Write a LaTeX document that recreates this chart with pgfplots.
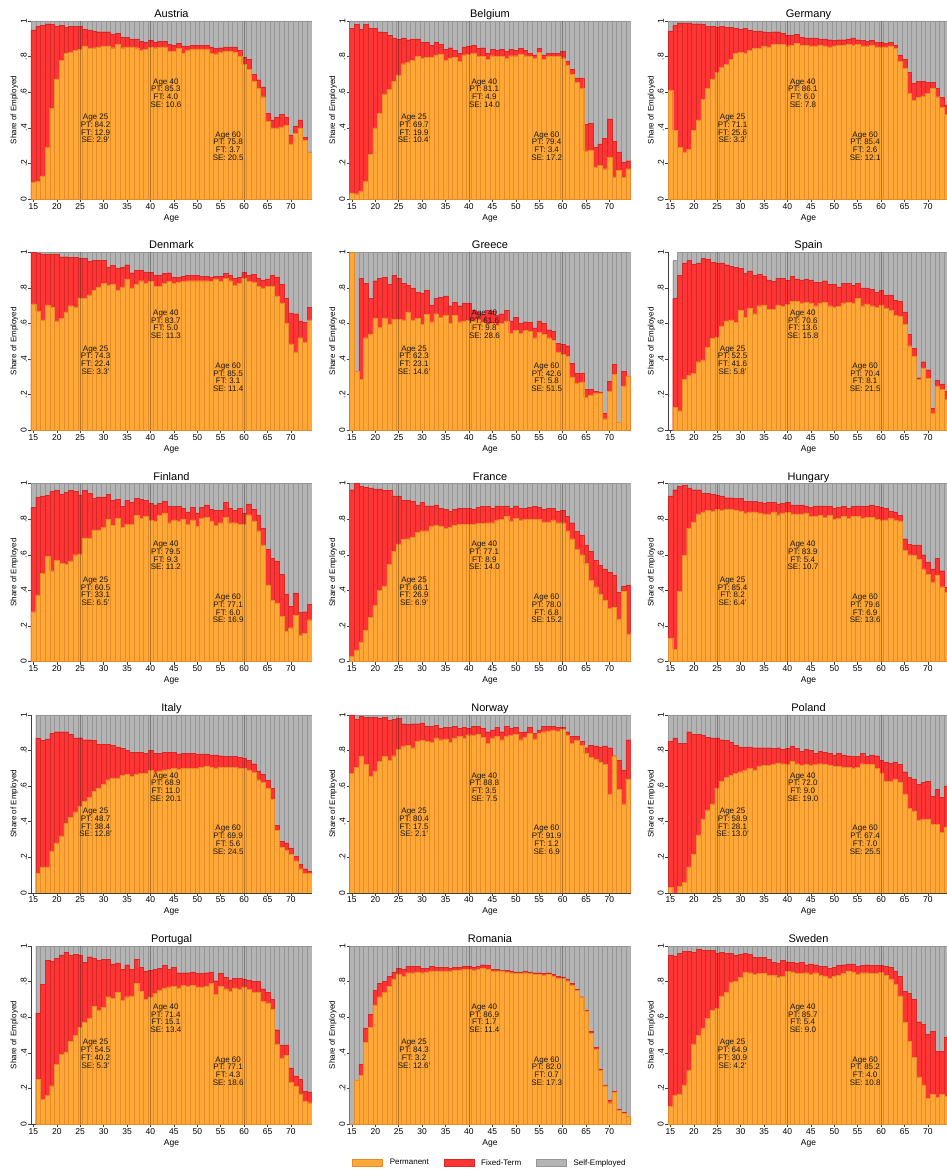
\documentclass[border=0pt]{standalone}
\usepackage{fontspec}
\setmainfont{Liberation Sans}
\usepackage{pgfplots}
\usepackage{pgfplotstable}
\pgfplotsset{compat=1.18}
\definecolor{permC}{RGB}{255,167,55}
\definecolor{permE}{RGB}{228,140,40}
\definecolor{ftC}{RGB}{255,52,52}
\definecolor{ftE}{RGB}{215,40,40}
\definecolor{seC}{RGB}{180,180,180}
\definecolor{seE}{RGB}{150,150,150}

% columns: a = age, p = permanent share, c = permanent + fixed-term share, t = total
\pgfplotstableread{
a p c t
15 .095 .95 1
16 .10 .97 1
17 .13 .975 1
18 .29 .985 1
19 .51 .98 1
20 .675 .97 1
21 .78 .975 1
22 .82 .965 1
23 .825 .97 1
24 .835 .97 1
25 .842 .971 1
26 .86 .955 1
27 .845 .95 1
28 .85 .945 1
29 .855 .94 1
30 .86 .94 1
31 .86 .94 1
32 .85 .925 1
33 .87 .93 1
34 .85 .91 1
35 .855 .91 1
36 .855 .90 1
37 .85 .90 1
38 .835 .885 1
39 .84 .88 1
40 .853 .893 1
41 .85 .88 1
42 .855 .885 1
43 .855 .885 1
44 .83 .87 1
45 .83 .865 1
46 .845 .875 1
47 .82 .86 1
48 .835 .86 1
49 .84 .865 1
50 .84 .865 1
51 .84 .865 1
52 .84 .865 1
53 .82 .855 1
54 .815 .845 1
55 .825 .85 1
56 .83 .855 1
57 .83 .855 1
58 .825 .855 1
59 .80 .835 1
60 .758 .795 1
61 .73 .785 1
62 .66 .70 1
63 .62 .67 1
64 .575 .63 1
65 .435 .48 1
66 .40 .445 1
67 .40 .46 1
68 .405 .475 1
69 .415 .46 1
70 .31 .36 1
71 .37 .41 1
72 .40 .445 1
73 .33 .345 1
74 .265 .265 1
}\tabAT
\pgfplotstableread{
a p c t
15 .035 .96 1
16 .03 .98 1
17 .045 .955 1
18 .10 .98 1
19 .25 .96 1
20 .40 .96 1
21 .48 .94 1
22 .59 .935 1
23 .615 .92 1
24 .66 .905 1
25 .697 .896 1
26 .76 .905 1
27 .77 .895 1
28 .78 .90 1
29 .80 .90 1
30 .79 .88 1
31 .795 .88 1
32 .795 .865 1
33 .81 .88 1
34 .815 .87 1
35 .78 .84 1
36 .79 .85 1
37 .795 .835 1
38 .775 .82 1
39 .81 .855 1
40 .811 .860 1
41 .82 .865 1
42 .80 .845 1
43 .80 .85 1
44 .785 .82 1
45 .805 .84 1
46 .80 .835 1
47 .80 .84 1
48 .79 .83 1
49 .805 .84 1
50 .805 .835 1
51 .815 .845 1
52 .805 .835 1
53 .80 .82 1
54 .79 .81 1
55 .825 .845 1
56 .785 .81 1
57 .80 .82 1
58 .80 .82 1
59 .80 .82 1
60 .794 .828 1
61 .75 .775 1
62 .70 .73 1
63 .655 .68 1
64 .62 .68 1
65 .27 .42 1
66 .275 .425 1
67 .18 .29 1
68 .19 .31 1
69 .17 .34 1
70 .235 .45 1
71 .125 .325 1
72 .16 .265 1
73 .12 .205 1
74 .17 .215 1
}\tabBE
\pgfplotstableread{
a p c t
15 .61 .945 1
16 .385 .975 1
17 .29 .99 1
18 .265 .99 1
19 .28 .99 1
20 .385 .985 1
21 .445 .985 1
22 .56 .98 1
23 .62 .97 1
24 .675 .97 1
25 .711 .967 1
26 .74 .97 1
27 .755 .965 1
28 .785 .965 1
29 .82 .96 1
30 .825 .955 1
31 .82 .96 1
32 .835 .95 1
33 .845 .945 1
34 .845 .945 1
35 .86 .94 1
36 .855 .935 1
37 .87 .94 1
38 .87 .94 1
39 .87 .93 1
40 .861 .921 1
41 .865 .92 1
42 .875 .925 1
43 .865 .91 1
44 .865 .905 1
45 .86 .905 1
46 .86 .905 1
47 .865 .90 1
48 .86 .90 1
49 .855 .895 1
50 .86 .89 1
51 .865 .895 1
52 .865 .895 1
53 .87 .90 1
54 .865 .905 1
55 .87 .895 1
56 .86 .89 1
57 .86 .885 1
58 .865 .89 1
59 .855 .88 1
60 .854 .880 1
61 .855 .875 1
62 .86 .88 1
63 .845 .865 1
64 .775 .81 1
65 .735 .785 1
66 .595 .71 1
67 .555 .65 1
68 .57 .66 1
69 .58 .66 1
70 .595 .655 1
71 .62 .655 1
72 .575 .62 1
73 .515 .57 1
74 .475 .525 1
}\tabDE
\pgfplotstableread{
a p c t
15 .71 1.0 1
16 .67 .995 1
17 .62 .99 1
18 .705 .99 1
19 .69 .99 1
20 .615 .99 1
21 .63 .975 1
22 .665 .975 1
23 .70 .97 1
24 .69 .97 1
25 .743 .967 1
26 .74 .965 1
27 .76 .95 1
28 .785 .955 1
29 .805 .955 1
30 .825 .955 1
31 .815 .915 1
32 .82 .925 1
33 .785 .91 1
34 .805 .915 1
35 .85 .93 1
36 .80 .885 1
37 .82 .90 1
38 .84 .90 1
39 .825 .89 1
40 .837 .887 1
41 .81 .87 1
42 .81 .87 1
43 .825 .88 1
44 .835 .885 1
45 .825 .86 1
46 .83 .86 1
47 .835 .865 1
48 .84 .87 1
49 .84 .87 1
50 .84 .87 1
51 .84 .865 1
52 .84 .865 1
53 .835 .86 1
54 .85 .865 1
55 .835 .865 1
56 .855 .88 1
57 .84 .87 1
58 .815 .855 1
59 .825 .86 1
60 .855 .886 1
61 .835 .87 1
62 .83 .875 1
63 .81 .855 1
64 .80 .845 1
65 .81 .85 1
66 .81 .87 1
67 .755 .86 1
68 .715 .82 1
69 .60 .74 1
70 .485 .66 1
71 .44 .655 1
72 .52 .615 1
73 .495 .605 1
74 .62 .69 1
}\tabDK
\pgfplotstableread{
a p c t
15 1.0 1.0 1
16 .33 .33 1
17 .285 .855 1
18 .52 .825 1
19 .54 .74 1
20 .63 .84 1
21 .58 .855 1
22 .63 .86 1
23 .595 .82 1
24 .625 .87 1
25 .623 .854 1
26 .62 .825 1
27 .665 .815 1
28 .62 .80 1
29 .63 .775 1
30 .595 .77 1
31 .65 .785 1
32 .61 .705 1
33 .655 .74 1
34 .635 .745 1
35 .645 .755 1
36 .60 .70 1
37 .645 .72 1
38 .61 .70 1
39 .615 .715 1
40 .616 .714 1
41 .615 .675 1
42 .625 .665 1
43 .605 .655 1
44 .595 .675 1
45 .60 .67 1
46 .59 .645 1
47 .60 .655 1
48 .615 .675 1
49 .545 .615 1
50 .56 .635 1
51 .545 .60 1
52 .56 .61 1
53 .555 .605 1
54 .52 .575 1
55 .55 .615 1
56 .54 .60 1
57 .52 .565 1
58 .505 .555 1
59 .44 .49 1
60 .426 .484 1
61 .415 .475 1
62 .30 .375 1
63 .265 .32 1
64 .27 .32 1
65 .185 .23 1
66 .195 .23 1
67 .21 .22 1
68 .21 .215 1
69 .065 .095 1
70 .22 .275 1
71 .315 .37 1
72 .045 .045 1
73 .25 .33 1
74 .305 .305 1
}\tabGR
\pgfplotstableread{
a p c t
16 .13 .74 .955
17 .11 .87 1
18 .285 .94 1
19 .31 .955 1
20 .32 .935 1
21 .385 .94 1
22 .395 .965 1
23 .465 .96 1
24 .515 .945 1
25 .525 .941 1
26 .585 .94 1
27 .615 .93 1
28 .62 .92 1
29 .605 .915 1
30 .675 .91 1
31 .635 .88 1
32 .685 .895 1
33 .655 .87 1
34 .70 .875 1
35 .705 .865 1
36 .68 .845 1
37 .68 .835 1
38 .705 .855 1
39 .695 .855 1
40 .706 .842 1
41 .725 .865 1
42 .725 .85 1
43 .715 .845 1
44 .72 .85 1
45 .715 .845 1
46 .70 .83 1
47 .715 .83 1
48 .72 .84 1
49 .70 .82 1
50 .69 .82 1
51 .695 .805 1
52 .715 .825 1
53 .72 .825 1
54 .715 .815 1
55 .74 .825 1
56 .70 .80 1
57 .71 .80 1
58 .70 .79 1
59 .69 .775 1
60 .704 .785 1
61 .685 .76 1
62 .675 .76 1
63 .645 .73 1
64 .64 .725 1
65 .595 .665 1
66 .475 .54 1
67 .415 .46 1
68 .285 .295 1
69 .35 .385 1
70 .29 .34 1
71 .095 .125 1
72 .25 .28 1
73 .23 .26 1
74 .175 .22 1
}\tabES
\pgfplotstableread{
a p c t
15 .28 .865 1
16 .375 .925 1
17 .495 .93 1
18 .59 .935 1
19 .51 .955 1
20 .57 .96 1
21 .55 .94 1
22 .545 .95 1
23 .565 .96 1
24 .60 .955 1
25 .605 .936 1
26 .695 .96 1
27 .695 .945 1
28 .74 .915 1
29 .74 .925 1
30 .755 .925 1
31 .80 .94 1
32 .765 .905 1
33 .805 .91 1
34 .755 .87 1
35 .77 .905 1
36 .77 .895 1
37 .82 .915 1
38 .805 .91 1
39 .815 .905 1
40 .795 .888 1
41 .79 .88 1
42 .82 .89 1
43 .835 .90 1
44 .78 .875 1
45 .795 .87 1
46 .79 .87 1
47 .80 .86 1
48 .77 .84 1
49 .795 .865 1
50 .76 .835 1
51 .805 .865 1
52 .81 .88 1
53 .79 .855 1
54 .765 .85 1
55 .78 .85 1
56 .81 .895 1
57 .78 .86 1
58 .78 .85 1
59 .77 .86 1
60 .771 .831 1
61 .825 .885 1
62 .79 .855 1
63 .735 .82 1
64 .655 .75 1
65 .43 .63 1
66 .345 .58 1
67 .33 .565 1
68 .255 .49 1
69 .17 .38 1
70 .19 .31 1
71 .26 .385 1
72 .15 .275 1
73 .16 .28 1
74 .235 .32 1
}\tabFI
\pgfplotstableread{
a p c t
15 .03 .965 1
16 .065 1.0 1
17 .11 .985 1
18 .175 .98 1
19 .25 .975 1
20 .315 .97 1
21 .40 .97 1
22 .425 .96 1
23 .545 .96 1
24 .62 .93 1
25 .661 .930 1
26 .685 .905 1
27 .69 .905 1
28 .70 .90 1
29 .725 .88 1
30 .735 .895 1
31 .735 .875 1
32 .76 .875 1
33 .765 .88 1
34 .76 .86 1
35 .75 .855 1
36 .755 .845 1
37 .765 .855 1
38 .77 .86 1
39 .77 .86 1
40 .771 .860 1
41 .77 .855 1
42 .775 .865 1
43 .775 .87 1
44 .78 .87 1
45 .78 .86 1
46 .795 .875 1
47 .80 .87 1
48 .815 .875 1
49 .79 .86 1
50 .805 .875 1
51 .795 .86 1
52 .80 .86 1
53 .80 .865 1
54 .80 .87 1
55 .80 .865 1
56 .785 .855 1
57 .785 .86 1
58 .795 .86 1
59 .78 .845 1
60 .780 .848 1
61 .735 .815 1
62 .69 .78 1
63 .63 .73 1
64 .60 .71 1
65 .55 .655 1
66 .455 .62 1
67 .42 .57 1
68 .38 .54 1
69 .345 .52 1
70 .30 .50 1
71 .305 .485 1
72 .24 .39 1
73 .395 .425 1
74 .155 .43 1
}\tabFR
\pgfplotstableread{
a p c t
15 .13 .93 1
16 .07 .965 1
17 .395 .985 1
18 .595 .99 1
19 .75 .975 1
20 .785 .965 1
21 .83 .965 1
22 .84 .945 1
23 .85 .945 1
24 .845 .94 1
25 .854 .936 1
26 .85 .93 1
27 .855 .92 1
28 .855 .92 1
29 .85 .915 1
30 .845 .915 1
31 .835 .90 1
32 .84 .90 1
33 .84 .90 1
34 .835 .895 1
35 .83 .89 1
36 .83 .895 1
37 .84 .895 1
38 .825 .885 1
39 .835 .89 1
40 .839 .893 1
41 .83 .88 1
42 .83 .88 1
43 .83 .88 1
44 .835 .875 1
45 .815 .865 1
46 .815 .875 1
47 .82 .875 1
48 .81 .875 1
49 .82 .87 1
50 .80 .86 1
51 .805 .865 1
52 .815 .87 1
53 .805 .86 1
54 .815 .87 1
55 .815 .875 1
56 .805 .87 1
57 .81 .875 1
58 .81 .88 1
59 .80 .87 1
60 .796 .865 1
61 .795 .86 1
62 .805 .845 1
63 .795 .84 1
64 .79 .82 1
65 .625 .69 1
66 .60 .66 1
67 .595 .655 1
68 .575 .655 1
69 .52 .60 1
70 .49 .56 1
71 .445 .52 1
72 .485 .58 1
73 .42 .51 1
74 .39 .415 1
}\tabHU
\pgfplotstableread{
a p c t
16 .11 .87 1
17 .145 .855 1
18 .145 .865 1
19 .235 .895 1
20 .28 .905 1
21 .32 .905 1
22 .39 .905 1
23 .425 .89 1
24 .455 .87 1
25 .487 .871 1
26 .515 .86 1
27 .535 .86 1
28 .57 .855 1
29 .585 .835 1
30 .61 .835 1
31 .635 .835 1
32 .645 .83 1
33 .645 .82 1
34 .66 .81 1
35 .665 .80 1
36 .655 .79 1
37 .665 .79 1
38 .67 .79 1
39 .67 .785 1
40 .689 .799 1
41 .675 .785 1
42 .685 .785 1
43 .69 .79 1
44 .695 .79 1
45 .70 .79 1
46 .695 .78 1
47 .70 .785 1
48 .70 .785 1
49 .70 .785 1
50 .70 .78 1
51 .705 .78 1
52 .71 .78 1
53 .705 .775 1
54 .70 .775 1
55 .705 .77 1
56 .705 .765 1
57 .705 .765 1
58 .705 .765 1
59 .70 .76 1
60 .699 .755 1
61 .69 .745 1
62 .675 .725 1
63 .635 .685 1
64 .62 .665 1
65 .585 .63 1
66 .525 .585 1
67 .35 .38 1
68 .255 .29 1
69 .24 .28 1
70 .215 .25 1
71 .18 .205 1
72 .135 .16 1
73 .11 .135 1
74 .11 .12 1
}\tabIT
\pgfplotstableread{
a p c t
15 .67 1.0 1
16 .705 .975 1
17 .765 .99 1
18 .72 .985 1
19 .655 .985 1
20 .685 .985 1
21 .74 .98 1
22 .765 .985 1
23 .745 .97 1
24 .77 .975 1
25 .804 .979 1
26 .825 .95 1
27 .83 .945 1
28 .815 .95 1
29 .85 .95 1
30 .855 .955 1
31 .85 .935 1
32 .845 .935 1
33 .87 .94 1
34 .86 .925 1
35 .865 .93 1
36 .845 .93 1
37 .87 .935 1
38 .88 .925 1
39 .87 .93 1
40 .888 .923 1
41 .885 .935 1
42 .89 .935 1
43 .875 .925 1
44 .84 .905 1
45 .87 .915 1
46 .88 .93 1
47 .86 .905 1
48 .88 .935 1
49 .885 .925 1
50 .89 .93 1
51 .86 .90 1
52 .875 .905 1
53 .895 .93 1
54 .865 .895 1
55 .895 .915 1
56 .905 .935 1
57 .91 .935 1
58 .915 .935 1
59 .91 .93 1
60 .919 .931 1
61 .885 .905 1
62 .84 .88 1
63 .855 .88 1
64 .83 .85 1
65 .785 .815 1
66 .76 .83 1
67 .75 .825 1
68 .735 .82 1
69 .72 .825 1
70 .555 .815 1
71 .765 .77 1
72 .58 .745 1
73 .50 .69 1
74 .64 .86 1
}\tabNO
\pgfplotstableread{
a p c t
15 .03 .85 1
16 .0 .87 1
17 .035 .84 1
18 .06 .84 1
19 .145 .905 1
20 .215 .89 1
21 .325 .89 1
22 .415 .885 1
23 .465 .875 1
24 .50 .87 1
25 .589 .870 1
26 .625 .86 1
27 .65 .855 1
28 .66 .845 1
29 .67 .83 1
30 .68 .82 1
31 .69 .82 1
32 .70 .82 1
33 .69 .815 1
34 .71 .815 1
35 .715 .815 1
36 .715 .815 1
37 .72 .81 1
38 .73 .815 1
39 .725 .805 1
40 .720 .810 1
41 .74 .825 1
42 .725 .81 1
43 .715 .795 1
44 .72 .805 1
45 .715 .80 1
46 .72 .785 1
47 .725 .795 1
48 .72 .79 1
49 .715 .785 1
50 .71 .775 1
51 .71 .785 1
52 .705 .775 1
53 .705 .77 1
54 .70 .765 1
55 .705 .765 1
56 .725 .785 1
57 .72 .765 1
58 .72 .775 1
59 .70 .77 1
60 .674 .744 1
61 .625 .735 1
62 .625 .73 1
63 .64 .735 1
64 .62 .72 1
65 .555 .68 1
66 .475 .65 1
67 .46 .64 1
68 .41 .61 1
69 .415 .62 1
70 .415 .625 1
71 .385 .54 1
72 .385 .58 1
73 .34 .535 1
74 .37 .60 1
}\tabPL
\pgfplotstableread{
a p c t
16 .25 .625 1
17 .14 .785 1
18 .16 .92 1
19 .215 .915 1
20 .335 .93 1
21 .39 .95 1
22 .405 .965 1
23 .465 .95 1
24 .50 .955 1
25 .545 .947 1
26 .57 .91 1
27 .595 .94 1
28 .66 .93 1
29 .64 .92 1
30 .655 .925 1
31 .715 .925 1
32 .705 .90 1
33 .74 .905 1
34 .695 .87 1
35 .715 .895 1
36 .72 .87 1
37 .79 .925 1
38 .745 .88 1
39 .70 .86 1
40 .714 .865 1
41 .735 .87 1
42 .75 .875 1
43 .765 .89 1
44 .77 .87 1
45 .775 .88 1
46 .765 .85 1
47 .78 .85 1
48 .775 .85 1
49 .78 .855 1
50 .77 .845 1
51 .77 .845 1
52 .775 .85 1
53 .79 .855 1
54 .73 .805 1
55 .775 .845 1
56 .76 .825 1
57 .745 .81 1
58 .765 .82 1
59 .755 .82 1
60 .771 .814 1
61 .755 .81 1
62 .74 .80 1
63 .74 .80 1
64 .69 .76 1
65 .68 .74 1
66 .645 .70 1
67 .45 .53 1
68 .37 .445 1
69 .385 .445 1
70 .235 .315 1
71 .21 .27 1
72 .17 .25 1
73 .13 .185 1
74 .12 .18 1
}\tabPT
\pgfplotstableread{
a p c t
15 0 0 1
16 .245 .245 1
17 .275 .335 1
18 .46 .54 1
19 .545 .615 1
20 .67 .75 1
21 .715 .79 1
22 .74 .80 1
23 .775 .83 1
24 .815 .855 1
25 .843 .875 1
26 .83 .87 1
27 .85 .885 1
28 .85 .885 1
29 .855 .885 1
30 .85 .875 1
31 .855 .875 1
32 .86 .885 1
33 .86 .88 1
34 .86 .88 1
35 .86 .88 1
36 .86 .875 1
37 .865 .88 1
38 .865 .88 1
39 .87 .885 1
40 .869 .886 1
41 .865 .88 1
42 .87 .885 1
43 .875 .895 1
44 .87 .89 1
45 .86 .87 1
46 .86 .87 1
47 .86 .865 1
48 .855 .865 1
49 .85 .86 1
50 .845 .855 1
51 .845 .855 1
52 .85 .86 1
53 .845 .855 1
54 .84 .85 1
55 .84 .85 1
56 .835 .845 1
57 .84 .85 1
58 .83 .84 1
59 .82 .83 1
60 .820 .827 1
61 .805 .815 1
62 .78 .79 1
63 .75 .755 1
64 .71 .715 1
65 .635 .64 1
66 .51 .52 1
67 .42 .43 1
68 .30 .31 1
69 .215 .22 1
70 .12 .135 1
71 .18 .185 1
72 .08 .085 1
73 .06 .065 1
74 .045 .045 1
}\tabRO
\pgfplotstableread{
a p c t
15 .10 .95 1
16 .16 .945 1
17 .17 .96 1
18 .22 .97 1
19 .30 .97 1
20 .45 .965 1
21 .50 .98 1
22 .54 .975 1
23 .595 .975 1
24 .64 .975 1
25 .649 .958 1
26 .72 .965 1
27 .74 .96 1
28 .795 .96 1
29 .80 .95 1
30 .825 .955 1
31 .855 .96 1
32 .85 .955 1
33 .84 .935 1
34 .845 .935 1
35 .845 .935 1
36 .835 .925 1
37 .835 .91 1
38 .825 .905 1
39 .83 .92 1
40 .857 .911 1
41 .855 .91 1
42 .845 .905 1
43 .845 .91 1
44 .85 .895 1
45 .84 .90 1
46 .85 .895 1
47 .835 .885 1
48 .83 .885 1
49 .82 .875 1
50 .83 .88 1
51 .835 .89 1
52 .845 .895 1
53 .86 .90 1
54 .855 .90 1
55 .84 .885 1
56 .85 .89 1
57 .85 .895 1
58 .845 .89 1
59 .845 .89 1
60 .852 .892 1
61 .835 .885 1
62 .815 .88 1
63 .785 .86 1
64 .72 .83 1
65 .57 .745 1
66 .465 .735 1
67 .375 .70 1
68 .265 .575 1
69 .22 .56 1
70 .145 .505 1
71 .165 .52 1
72 .15 .41 1
73 .165 .41 1
74 .155 .49 1
}\tabSE

\tikzset{ann/.style={align=center, font=\fontsize{8}{7.7}\selectfont, inner sep=0pt, text=black!90}}
\pgfplotsset{
  barbase/.style={ybar, bar width=1, bar shift=0pt, line width=0.3pt,
    legend image code/.code={\draw[##1] (0pt,-3.5pt) rectangle (30pt,3.5pt);}},
  graybar/.style={barbase, fill=seC, draw=seE},
  redbar/.style={barbase, fill=ftC, draw=ftE},
  orangebar/.style={barbase, fill=permC, draw=permE},
  refline/.style={forget plot, sharp plot, no markers, line width=0.6pt, color=black, opacity=0.3},
  every axis title shift=0pt,
  panel/.style={
    scale only axis, width=281pt, height=178pt, anchor=north west,
    xmin=14.5, xmax=74.5, ymin=0, ymax=1,
    xtick={15,20,...,70},
    ytick={0,0.2,0.4,0.6,0.8,1}, yticklabels={0,.2,.4,.6,.8,1},
    axis x line*=bottom, axis y line*=left,
    tick align=outside, major tick length=3pt,
    tick style={black!75, line width=0.4pt},
    axis line style={black!75, line width=0.4pt},
    /pgf/number format/assume math mode=true,
    tick label style={font=\fontsize{8.5}{9}\selectfont},
    xticklabel style={inner sep=1pt},
    yticklabel style={rotate=90, anchor=south, inner sep=1pt},
    xlabel={Age}, ylabel={Share of Employed},
    xlabel style={font=\fontsize{8.5}{9}\selectfont, at={(axis description cs:0.5,0)}, anchor=base, yshift=-21pt, inner sep=0pt},
    ylabel style={font=\fontsize{8}{9}\selectfont, at={(axis description cs:-0.045,0.5)}, anchor=south, inner sep=0pt},
    title style={font=\fontsize{11}{12}\selectfont, at={(axis description cs:0.5,1)}, anchor=base, yshift=3.5pt, inner sep=0pt},
    clip=true,
  },
}

\newcommand{\panel}[7]{%
\begin{axis}[panel, at={(#1)}, title={#3}, #7]
\addplot[graybar] table[x=a,y=t]{#2};
\addplot[redbar] table[x=a,y=c]{#2};
\addplot[orangebar] table[x=a,y=p]{#2};
\addplot[refline] coordinates {(25,0) (25,1)};
\addplot[refline] coordinates {(40,0) (40,1)};
\addplot[refline] coordinates {(60,0) (60,1)};
\node[ann] at (axis cs:28.3,0.395) {#4};
\node[ann] at (axis cs:43.3,0.595) {#5};
\node[ann] at (axis cs:56.6,0.298) {#6};
\end{axis}}

\begin{document}
\begin{tikzpicture}
\path[use as bounding box] (-31pt,21pt) rectangle (915pt,-1151pt);
% row 1
\panel{0pt,0pt}{\tabAT}{Austria}{Age 25\\PT: 84.2\\FT: 12.9\\SE: 2.9'}{Age 40\\PT: 85.3\\FT: 4.0\\SE: 10.6}{Age 60\\PT: 75.8\\FT: 3.7\\SE: 20.5}{}
\panel{318.5pt,0pt}{\tabBE}{Belgium}{Age 25\\PT: 69.7\\FT: 19.9\\SE: 10.4'}{Age 40\\PT: 81.1\\FT: 4.9\\SE: 14.0}{Age 60\\PT: 79.4\\FT: 3.4\\SE: 17.2}{}
\panel{637pt,0pt}{\tabDE}{Germany}{Age 25\\PT: 71.1\\FT: 25.6\\SE: 3.3'}{Age 40\\PT: 86.1\\FT: 6.0\\SE: 7.8}{Age 60\\PT: 85.4\\FT: 2.6\\SE: 12.1}{}
% row 2
\panel{0pt,-231.25pt}{\tabDK}{Denmark}{Age 25\\PT: 74.3\\FT: 22.4\\SE: 3.3'}{Age 40\\PT: 83.7\\FT: 5.0\\SE: 11.3}{Age 60\\PT: 85.5\\FT: 3.1\\SE: 11.4}{}
\panel{318.5pt,-231.25pt}{\tabGR}{Greece}{Age 25\\PT: 62.3\\FT: 23.1\\SE: 14.6'}{Age 40\\PT: 61.6\\FT: 9.8\\SE: 28.6}{Age 60\\PT: 42.6\\FT: 5.8\\SE: 51.5}{}
\panel{637pt,-231.25pt}{\tabES}{Spain}{Age 25\\PT: 52.5\\FT: 41.6\\SE: 5.8'}{Age 40\\PT: 70.6\\FT: 13.6\\SE: 15.8}{Age 60\\PT: 70.4\\FT: 8.1\\SE: 21.5}{}
% row 3
\panel{0pt,-462.5pt}{\tabFI}{Finland}{Age 25\\PT: 60.5\\FT: 33.1\\SE: 6.5'}{Age 40\\PT: 79.5\\FT: 9.3\\SE: 11.2}{Age 60\\PT: 77.1\\FT: 6.0\\SE: 16.9}{}
\panel{318.5pt,-462.5pt}{\tabFR}{France}{Age 25\\PT: 66.1\\FT: 26.9\\SE: 6.9'}{Age 40\\PT: 77.1\\FT: 8.9\\SE: 14.0}{Age 60\\PT: 78.0\\FT: 6.8\\SE: 15.2}{}
\panel{637pt,-462.5pt}{\tabHU}{Hungary}{Age 25\\PT: 85.4\\FT: 8.2\\SE: 6.4'}{Age 40\\PT: 83.9\\FT: 5.4\\SE: 10.7}{Age 60\\PT: 79.6\\FT: 6.9\\SE: 13.6}{}
% row 4
\panel{0pt,-693.75pt}{\tabIT}{Italy}{Age 25\\PT: 48.7\\FT: 38.4\\SE: 12.8'}{Age 40\\PT: 68.9\\FT: 11.0\\SE: 20.1}{Age 60\\PT: 69.9\\FT: 5.6\\SE: 24.5}{}
\panel{318.5pt,-693.75pt}{\tabNO}{Norway}{Age 25\\PT: 80.4\\FT: 17.5\\SE: 2.1'}{Age 40\\PT: 88.8\\FT: 3.5\\SE: 7.5}{Age 60\\PT: 91.9\\FT: 1.2\\SE: 6.9}{}
\panel{637pt,-693.75pt}{\tabPL}{Poland}{Age 25\\PT: 58.9\\FT: 28.1\\SE: 13.0'}{Age 40\\PT: 72.0\\FT: 9.0\\SE: 19.0}{Age 60\\PT: 67.4\\FT: 7.0\\SE: 25.5}{}
% row 5
\panel{0pt,-925pt}{\tabPT}{Portugal}{Age 25\\PT: 54.5\\FT: 40.2\\SE: 5.3'}{Age 40\\PT: 71.4\\FT: 15.1\\SE: 13.4}{Age 60\\PT: 77.1\\FT: 4.3\\SE: 18.6}{}
\panel{318.5pt,-925pt}{\tabRO}{Romania}{Age 25\\PT: 84.3\\FT: 3.2\\SE: 12.6'}{Age 40\\PT: 86.9\\FT: 1.7\\SE: 11.4}{Age 60\\PT: 82.0\\FT: 0.7\\SE: 17.3}{legend entries={Self-Employed,Fixed-Term,Permanent}, reverse legend, legend columns=3, legend style={at={(axis description cs:0.5,-0.219)}, anchor=center, draw=none, fill=none, font=\fontsize{8}{9}\selectfont, /tikz/every odd column/.style={column sep=5pt}, /tikz/every even column/.style={column sep=13pt}}}
\panel{637pt,-925pt}{\tabSE}{Sweden}{Age 25\\PT: 64.9\\FT: 30.9\\SE: 4.2'}{Age 40\\PT: 85.7\\FT: 5.4\\SE: 9.0}{Age 60\\PT: 85.2\\FT: 4.0\\SE: 10.8}{}
\end{tikzpicture}
\end{document}
